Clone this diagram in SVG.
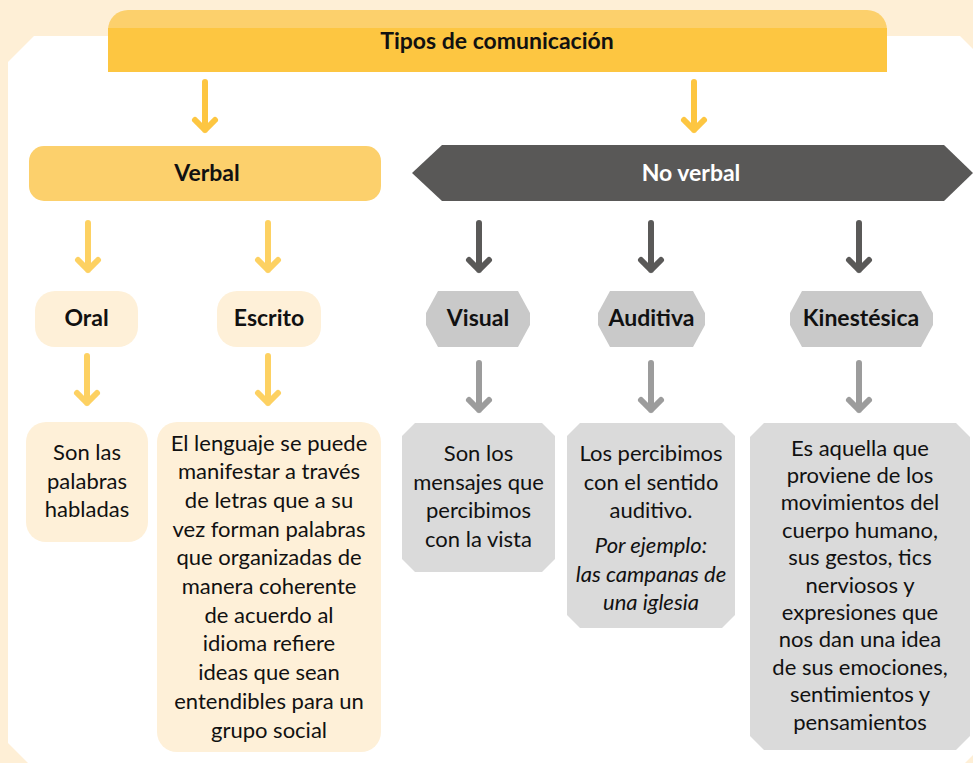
<svg xmlns="http://www.w3.org/2000/svg" width="973" height="763" viewBox="0 0 973 763">
<defs>
<style>
.t{font-family:Lato,"Noto Sans","Liberation Sans",sans-serif;font-size:22px;fill:#111;text-anchor:middle}
.b{font-weight:bold;font-size:23px}
.i{font-style:italic}
.w{fill:#fff}
.ay{fill:none;stroke:#FDC641;stroke-width:6;stroke-linecap:round;stroke-linejoin:round}
.ay2{fill:none;stroke:#FDD162;stroke-width:6;stroke-linecap:round;stroke-linejoin:round}
.ag{fill:none;stroke:#5A5958;stroke-width:6;stroke-linecap:round;stroke-linejoin:round}
.ag2{fill:none;stroke:#9C9C9C;stroke-width:6;stroke-linecap:round;stroke-linejoin:round}
.cream{fill:#FEF0D8}
.hex{fill:#C9C9C9}
.gbox{fill:#DADADA}
</style>
</defs>
<rect x="0" y="0" width="973" height="763" fill="#FEEFD6"/>
<polygon points="34,36 960,36 990,66 990,738 958,770 35,770 8,743 8,62" fill="#fff"/>

<g id="connectors">
<path class="ay" d="M205,82 V130 M195,120 L205,130 L215,120"/>
<path class="ay" d="M694,82 V130 M684,120 L694,130 L704,120"/>
<path class="ay2" d="M88,223 V270 M78,260 L88,270 L98,260"/>
<path class="ay2" d="M268,223 V270 M258,260 L268,270 L278,260"/>
<path class="ag" d="M479,223 V270 M469,260 L479,270 L489,260"/>
<path class="ag" d="M651,223 V270 M641,260 L651,270 L661,260"/>
<path class="ag" d="M859,223 V270 M849,260 L859,270 L869,260"/>
<path class="ay2" d="M87,356 V403 M77,393 L87,403 L97,393"/>
<path class="ay2" d="M268,356 V403 M258,393 L268,403 L278,393"/>
<path class="ag2" d="M479,363 V410 M469,400 L479,410 L489,400"/>
<path class="ag2" d="M651,363 V410 M641,400 L651,410 L661,400"/>
<path class="ag2" d="M859,363 V410 M849,400 L859,410 L869,400"/>
</g>

<g id="tipos">
<rect x="108" y="10" width="779" height="50" rx="20" fill="#FCD06C"/>
<rect x="108" y="28" width="779" height="44" fill="#FDC641"/>
<text class="t b" x="497" y="49">Tipos de comunicación</text>
</g>

<g id="verbal">
<rect x="29" y="146" width="352" height="55" rx="15" fill="#FCD06C"/>
<text class="t b" x="207" y="181">Verbal</text>
</g>

<g id="noverbal">
<polygon points="412,173 442,145 944,145 973,173 944,201 442,201" fill="#595857"/>
<text class="t b w" x="691" y="181">No verbal</text>
</g>

<g id="oral">
<rect x="35" y="291" width="103" height="56" rx="20" class="cream"/>
<text class="t b" x="86.5" y="326">Oral</text>
</g>

<g id="escrito">
<rect x="217" y="291" width="104" height="56" rx="20" class="cream"/>
<text class="t b" x="269" y="326">Escrito</text>
</g>

<g id="visual">
<polygon class="hex" points="438,291 518,291 530,313 530,325 518,347 438,347 426,325 426,313"/>
<text class="t b" x="478" y="326">Visual</text>
</g>

<g id="auditiva">
<polygon class="hex" points="610,291 693,291 705,313 705,325 693,347 610,347 598,325 598,313"/>
<text class="t b" x="651.5" y="326">Auditiva</text>
</g>

<g id="kinestesica">
<polygon class="hex" points="802,291 921,291 933,313 933,325 921,347 802,347 790,325 790,313"/>
<text class="t b" x="861" y="326">Kinestésica</text>
</g>

<g id="oral-text">
<rect x="26" y="422" width="122" height="120" rx="20" class="cream"/>
<text class="t" x="87" y="460">Son las</text>
<text class="t" x="87" y="488.5">palabras</text>
<text class="t" x="87" y="517">habladas</text>
</g>

<g id="escrito-text">
<rect x="157" y="422" width="224" height="330" rx="20" class="cream"/>
<text class="t" x="269" y="450.5">El lenguaje se puede</text>
<text class="t" x="269" y="479.2">manifestar a través</text>
<text class="t" x="269" y="507.9">de letras que a su</text>
<text class="t" x="269" y="536.6">vez forman palabras</text>
<text class="t" x="269" y="565.3">que organizadas de</text>
<text class="t" x="269" y="594">manera coherente</text>
<text class="t" x="269" y="622.7">de acuerdo al</text>
<text class="t" x="269" y="651.4">idioma refiere</text>
<text class="t" x="269" y="680.1">ideas que sean</text>
<text class="t" x="269" y="708.8">entendibles para un</text>
<text class="t" x="269" y="737.5">grupo social</text>
</g>

<g id="visual-text">
<polygon class="gbox" points="415,423 542,423 555,436 555,559 542,572 415,572 402,559 402,436"/>
<text class="t" x="478.5" y="461">Son los</text>
<text class="t" x="478.5" y="489.5">mensajes que</text>
<text class="t" x="478.5" y="518">percibimos</text>
<text class="t" x="478.5" y="546.5">con la vista</text>
</g>

<g id="auditiva-text">
<polygon class="gbox" points="580,423 722,423 735,436 735,615 722,628 580,628 567,615 567,436"/>
<text class="t" x="651" y="461">Los percibimos</text>
<text class="t" x="651" y="489.5">con el sentido</text>
<text class="t" x="651" y="518">auditivo.</text>
<text class="t i" x="651" y="553">Por ejemplo:</text>
<text class="t i" x="651" y="581.5">las campanas de</text>
<text class="t i" x="651" y="610">una iglesia</text>
</g>

<g id="kinestesica-text">
<polygon class="gbox" points="764,423 956,423 970,437 970,736 956,750 764,750 750,736 750,437" />
<text class="t" x="860" y="455.5">Es aquella que</text>
<text class="t" x="860" y="482.9">proviene de los</text>
<text class="t" x="860" y="510.3">movimientos del</text>
<text class="t" x="860" y="537.7">cuerpo humano,</text>
<text class="t" x="860" y="565.1">sus gestos, tics</text>
<text class="t" x="860" y="592.5">nerviosos y</text>
<text class="t" x="860" y="619.9">expresiones que</text>
<text class="t" x="860" y="647.3">nos dan una idea</text>
<text class="t" x="860" y="674.7">de sus emociones,</text>
<text class="t" x="860" y="702.1">sentimientos y</text>
<text class="t" x="860" y="729.5">pensamientos</text>
</g>
</svg>
